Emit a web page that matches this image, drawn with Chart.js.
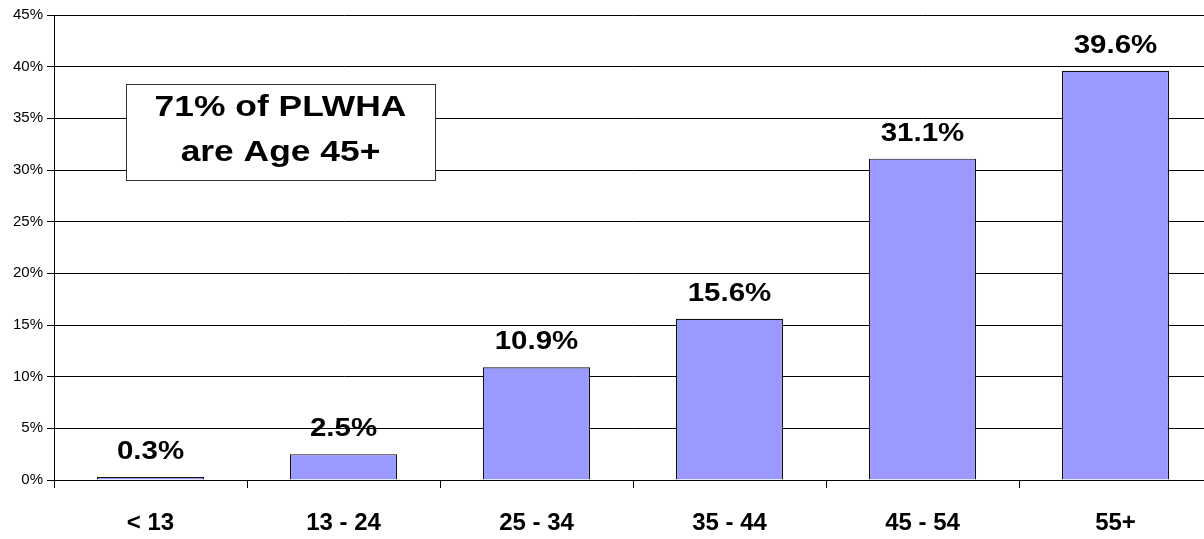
<!DOCTYPE html>
<html>
<head>
<meta charset="utf-8">
<script src="https://cdn.jsdelivr.net/npm/chart.js@4/dist/chart.umd.min.js"></script>
<style>
  html, body { margin: 0; padding: 0; background: #fff; overflow: hidden; }
  #wrap { width: 1204px; height: 539px; overflow: hidden; }
  #c { display: block; }
</style>
</head>
<body>
<div id="wrap"><canvas id="c" width="1212" height="539"></canvas></div>
<script>
const categories = ['< 13', '13 - 24', '25 - 34', '35 - 44', '45 - 54', '55+'];
const values = [0.3, 2.5, 10.9, 15.6, 31.1, 39.6];
const yTicks = [0, 5, 10, 15, 20, 25, 30, 35, 40, 45];
const calloutLines = ['71% of PLWHA', 'are Age 45+'];

const FONT = '"Liberation Sans", Arial, sans-serif';
const STRETCH = 1.18;

function wideText(ctx, text, x, y) {
  ctx.save();
  ctx.translate(x, y);
  ctx.scale(STRETCH, 1);
  ctx.fillText(text, 0, 0);
  ctx.restore();
}

const valueLabels = {
  id: 'valueLabels',
  afterDatasetsDraw(chart) {
    const ctx = chart.ctx;
    const meta = chart.getDatasetMeta(0);
    ctx.save();
    ctx.font = 'bold 25px ' + FONT;
    ctx.fillStyle = '#000';
    ctx.textAlign = 'center';
    ctx.textBaseline = 'alphabetic';
    meta.data.forEach((bar, i) => {
      wideText(ctx, values[i].toFixed(1) + '%', bar.x, bar.y - 18);
    });
    ctx.restore();
  }
};

const callout = {
  id: 'callout',
  afterDraw(chart) {
    const ctx = chart.ctx;
    const a = chart.chartArea;
    const x = a.left + 72, y = a.top + 69, w = 309, h = 96;
    ctx.save();
    ctx.fillStyle = '#fff';
    ctx.fillRect(x, y, w, h);
    ctx.strokeStyle = '#333';
    ctx.lineWidth = 1;
    ctx.strokeRect(x + 0.5, y + 0.5, w, h);
    ctx.fillStyle = '#000';
    ctx.font = 'bold 30px ' + FONT;
    ctx.textAlign = 'center';
    ctx.textBaseline = 'alphabetic';
    wideText(ctx, calloutLines[0], x + w / 2, y + 32);
    wideText(ctx, calloutLines[1], x + w / 2, y + 77);
    ctx.restore();
  }
};

new Chart(document.getElementById('c'), {
  type: 'bar',
  data: {
    labels: categories,
    datasets: [{
      data: values,
      backgroundColor: '#9999ff',
      borderColor: '#111',
      borderWidth: 1.2,
      borderSkipped: 'bottom',
      categoryPercentage: 1,
      barPercentage: 0.555
    }]
  },
  options: {
    responsive: false,
    animation: false,
    devicePixelRatio: 1,
    layout: { padding: { top: 15, right: 0, left: 0, bottom: 0 } },
    plugins: { legend: { display: false }, tooltip: { enabled: false } },
    scales: {
      x: {
        offset: true,
        grid: { offset: true, drawOnChartArea: false, color: '#000', tickLength: 8, lineWidth: 1 },
        border: { color: '#000', width: 1 },
        ticks: { color: '#000', font: { family: FONT, size: 24, weight: 'bold' }, padding: 21, maxRotation: 0 },
        afterFit(s) { s.height = 59; }
      },
      y: {
        min: 0, max: 45,
        afterBuildTicks(s) { s.ticks = yTicks.map(v => ({ value: v })); },
        grid: { color: '#000', lineWidth: 1, tickLength: 7 },
        border: { color: '#000', width: 1 },
        ticks: { color: '#000', font: { family: FONT, size: 15 }, padding: 4, callback: v => v + '%' },
        afterFit(s) { s.width = 54; }
      }
    }
  },
  plugins: [valueLabels, callout]
});
</script>
</body>
</html>
